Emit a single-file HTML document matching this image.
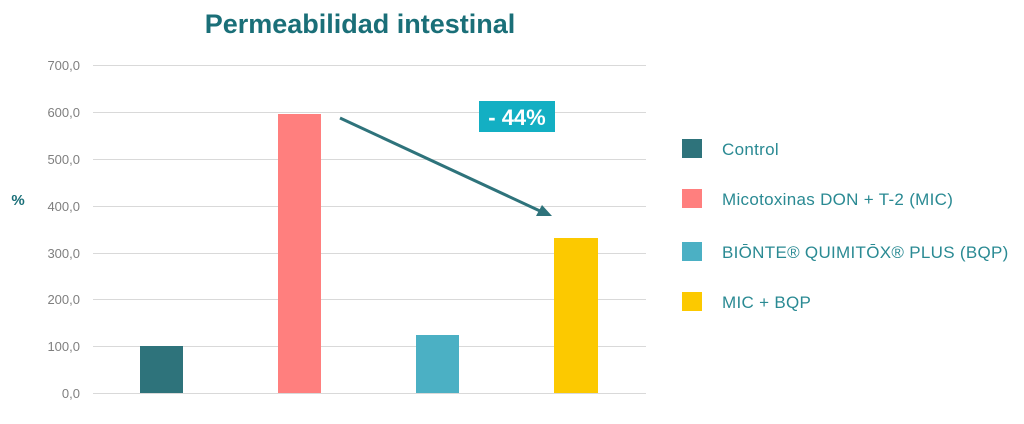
<!DOCTYPE html>
<html><head><meta charset="utf-8"><style>
body{margin:0;background:#fff;width:1024px;height:419px;overflow:hidden;font-family:"Liberation Sans",sans-serif}
</style></head><body>
<svg width="1024" height="419" xmlns="http://www.w3.org/2000/svg" font-family="Liberation Sans, sans-serif">
<text x="360" y="33" text-anchor="middle" font-size="27" font-weight="bold" fill="#1a6f78">Permeabilidad intestinal</text>
<g stroke="#d9d9d9" stroke-width="1">
<line x1="93" x2="646" y1="65.5" y2="65.5"/><line x1="93" x2="646" y1="112.5" y2="112.5"/>
<line x1="93" x2="646" y1="159.5" y2="159.5"/><line x1="93" x2="646" y1="206.5" y2="206.5"/>
<line x1="93" x2="646" y1="253.5" y2="253.5"/><line x1="93" x2="646" y1="299.5" y2="299.5"/>
<line x1="93" x2="646" y1="346.5" y2="346.5"/><line x1="93" x2="646" y1="393.5" y2="393.5"/>
</g>
<g font-size="13" fill="#7f7f7f" text-anchor="end">
<text x="80" y="70">700,0</text><text x="80" y="117">600,0</text><text x="80" y="164">500,0</text>
<text x="80" y="211">400,0</text><text x="80" y="258">300,0</text><text x="80" y="304">200,0</text>
<text x="80" y="351">100,0</text><text x="80" y="398">0,0</text>
</g>
<text x="18" y="205" text-anchor="middle" font-size="15" font-weight="bold" fill="#1a6f78">%</text>
<rect x="140" y="346" width="43" height="47" fill="#2e737b"/>
<rect x="278" y="114" width="43" height="279" fill="#ff7f7e"/>
<rect x="416" y="335" width="43" height="58" fill="#4bb0c4"/>
<rect x="554" y="238" width="44" height="155" fill="#fcc900"/>
<line x1="340" y1="118" x2="540" y2="211" stroke="#2e737b" stroke-width="3"/>
<polygon points="552,216 536,216 542,205" fill="#2e737b"/>
<rect x="479" y="101" width="76" height="31" fill="#13afc3"/>
<text x="517" y="125" text-anchor="middle" font-size="22" font-weight="bold" fill="#fff">- 44%</text>
<rect x="682" y="139" width="20" height="19" fill="#2e737b"/>
<rect x="682" y="189" width="20" height="19" fill="#ff7f7e"/>
<rect x="682" y="242" width="20" height="19" fill="#4bb0c4"/>
<rect x="682" y="292" width="20" height="19" fill="#fcc900"/>
<g font-size="17" fill="#2a8a93" letter-spacing="0.3">
<text x="722" y="155">Control</text>
<text x="722" y="205">Micotoxinas DON +  T-2 (MIC)</text>
<text x="722" y="258">BIŌNTE® QUIMITŌX® PLUS (BQP)</text>
<text x="722" y="308">MIC + BQP</text>
</g>
</svg>
</body></html>
